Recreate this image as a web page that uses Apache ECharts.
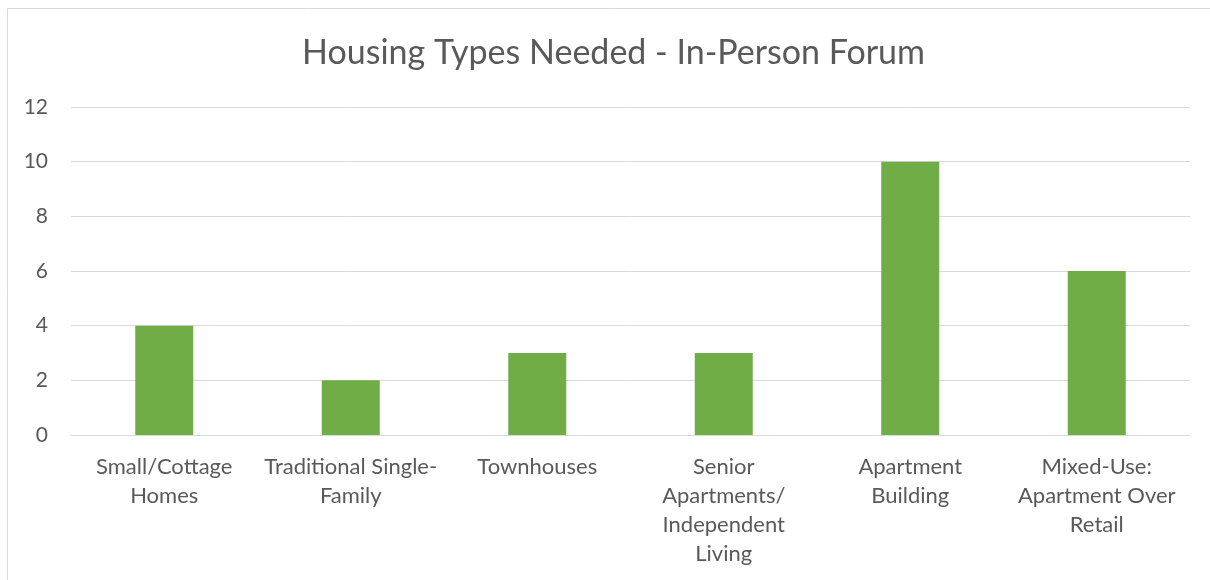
<!DOCTYPE html>
<html>
<head>
<meta charset="utf-8">
<script src="https://cdn.jsdelivr.net/npm/echarts@6/dist/echarts.min.js"></script>
<style>
  html, body { margin: 0; padding: 0; background: #fff; }
  #chart { width: 1210px; height: 580px; }
</style>
</head>
<body>
<div id="chart"></div>
<script>
// categories, wrapped as in the original
const categories = [
  "Small/Cottage\nHomes",
  "Traditional Single-\nFamily",
  "Townhouses",
  "Senior\nApartments/\nIndependent\nLiving",
  "Apartment\nBuilding",
  "Mixed-Use:\nApartment Over\nRetail"
];
const values = [4, 2, 3, 3, 10, 6];
const yTicks = [0, 2, 4, 6, 8, 10, 12];

const font = "Lato, 'Open Sans', sans-serif";
const chart = echarts.init(document.getElementById("chart"));

chart.setOption({
  animation: false,
  title: {
    text: "Housing Types Needed - In-Person Forum",
    left: 297,
    top: 31,
    textStyle: { fontFamily: font, fontSize: 34, fontWeight: "normal", color: "#595959" }
  },
  graphic: [{
    type: "rect",
    shape: { x: 7.5, y: 8.5, width: 1220, height: 600 },
    style: { fill: "none", stroke: "#d9d9d9", lineWidth: 1 },
    silent: true
  }],
  grid: { left: 71, right: 20, top: 107, bottom: 145 },
  xAxis: {
    type: "category",
    data: categories,
    axisTick: { show: false },
    axisLine: { lineStyle: { color: "#d9d9d9", width: 1 } },
    axisLabel: {
      interval: 0,
      margin: 17,
      fontFamily: font,
      fontSize: 22,
      lineHeight: 29,
      color: "#595959"
    }
  },
  yAxis: {
    type: "value",
    min: yTicks[0],
    max: yTicks[yTicks.length - 1],
    interval: 2,
    axisLine: { show: false },
    axisTick: { show: false },
    splitLine: { lineStyle: { color: "#d9d9d9", width: 1 } },
    axisLabel: { margin: 23, fontFamily: font, fontSize: 21, color: "#595959" }
  },
  series: [{
    type: "bar",
    data: values,
    barWidth: 58,
    itemStyle: { color: "#70ad47" }
  }]
});
</script>
</body>
</html>
